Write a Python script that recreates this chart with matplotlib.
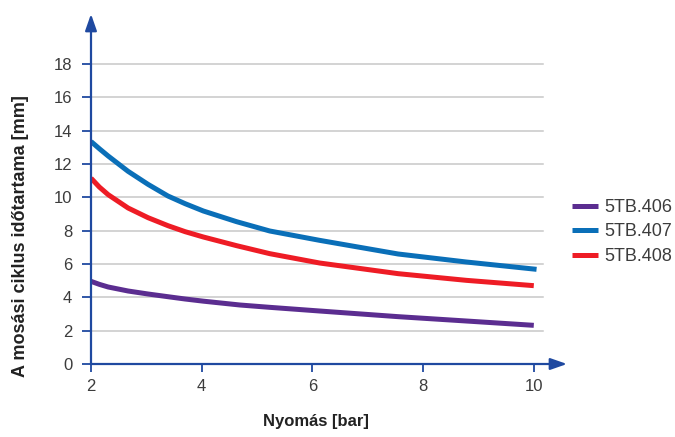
import matplotlib
matplotlib.use("Agg")
import matplotlib.pyplot as plt

plt.rcParams['font.family'] = ['Liberation Sans', 'DejaVu Sans']

# Data
x_406 = [2.0, 2.15, 2.31, 2.67, 3.03, 3.43, 3.7, 4.03, 4.69, 5.23, 6.13, 7.55, 8.78, 10.0]
y_406 = [4.96, 4.78, 4.62, 4.38, 4.2, 4.02, 3.9, 3.77, 3.54, 3.4, 3.18, 2.84, 2.58, 2.32]

x_407 = [2.0, 2.15, 2.31, 2.67, 3.03, 3.39, 3.7, 4.03, 4.63, 5.23, 6.13, 7.55, 8.78, 10.05]
y_407 = [13.35, 12.92, 12.48, 11.56, 10.78, 10.08, 9.62, 9.18, 8.54, 7.98, 7.42, 6.6, 6.12, 5.68]

x_408 = [2.0, 2.15, 2.31, 2.67, 3.03, 3.39, 3.7, 4.03, 4.63, 5.23, 6.13, 7.55, 8.78, 10.0]
y_408 = [11.15, 10.62, 10.16, 9.36, 8.78, 8.3, 7.94, 7.62, 7.1, 6.62, 6.06, 5.42, 5.02, 4.7]

series_labels = ["5TB.406", "5TB.407", "5TB.408"]
series_colors = ["#5b2d90", "#0a6fb8", "#ee1c25"]

x_ticks = [2, 4, 6, 8, 10]
y_ticks = [0, 2, 4, 6, 8, 10, 12, 14, 16, 18]

axis_col = "#1f49a0"
text_col = "#3c3c3c"

fig = plt.figure(figsize=(6.75, 4.37), dpi=100)
ax = fig.add_axes([91 / 675, 1 - 364 / 437, (567 - 91) / 675, (364 - 14) / 437])
ax.set_xlim(2, 10.6)
ax.set_ylim(0, 21)

for s in ax.spines.values():
    s.set_visible(False)

# grid lines
for yv in y_ticks[1:]:
    ax.plot([2, 10.16], [yv, yv], color="#c8c8c8", lw=1.1, zorder=1, clip_on=False)

# curves
for xs, ys, lab, col in zip([x_406, x_407, x_408], [y_406, y_407, y_408],
                            series_labels, series_colors):
    ax.plot(xs, ys, color=col, lw=3.6, label=lab, solid_capstyle='butt',
            solid_joinstyle='round', zorder=3)

# axes with arrows
ax.annotate('', xy=(2, 21), xytext=(2, 0), xycoords='data',
            arrowprops=dict(arrowstyle='-|>,head_length=1.0,head_width=0.35',
                            color=axis_col, lw=1.6, shrinkA=0, shrinkB=0),
            annotation_clip=False, zorder=4)
ax.annotate('', xy=(10.6, 0), xytext=(2, 0), xycoords='data',
            arrowprops=dict(arrowstyle='-|>,head_length=1.0,head_width=0.35',
                            color=axis_col, lw=1.6, shrinkA=0, shrinkB=0),
            annotation_clip=False, zorder=4)

ax.set_xticks(x_ticks)
ax.set_yticks(y_ticks)
ax.set_xticklabels([str(v) for v in x_ticks])
ax.set_yticklabels([str(v) for v in y_ticks])
ax.tick_params(axis='both', colors=axis_col, width=1.3, labelcolor=text_col,
               labelsize=12)
ax.tick_params(axis='y', length=6.5, pad=7)
ax.tick_params(axis='x', length=6, pad=5)

ax.set_xlabel("Nyomás [bar]", fontsize=12, fontweight='bold', color="#222222")
ax.xaxis.set_label_coords((316 - 91) / 476, -(414 - 364) / 350)
ax.set_ylabel("A mosási ciklus időtartama [mm]", fontsize=13, fontweight='bold',
              color="#222222")
ax.yaxis.set_label_coords((29 - 91) / 476, (364 - 236) / 350)

leg = ax.legend(loc='center left', bbox_to_anchor=((572 - 91) / 476, (364 - 232) / 350),
                frameon=False, borderaxespad=0, borderpad=0,
                fontsize=13, handlelength=1.45, handletextpad=0.35,
                labelspacing=0.42, labelcolor=text_col)
for line in leg.get_lines():
    line.set_linewidth(3.6)

fig.savefig("out.png", dpi=100)
